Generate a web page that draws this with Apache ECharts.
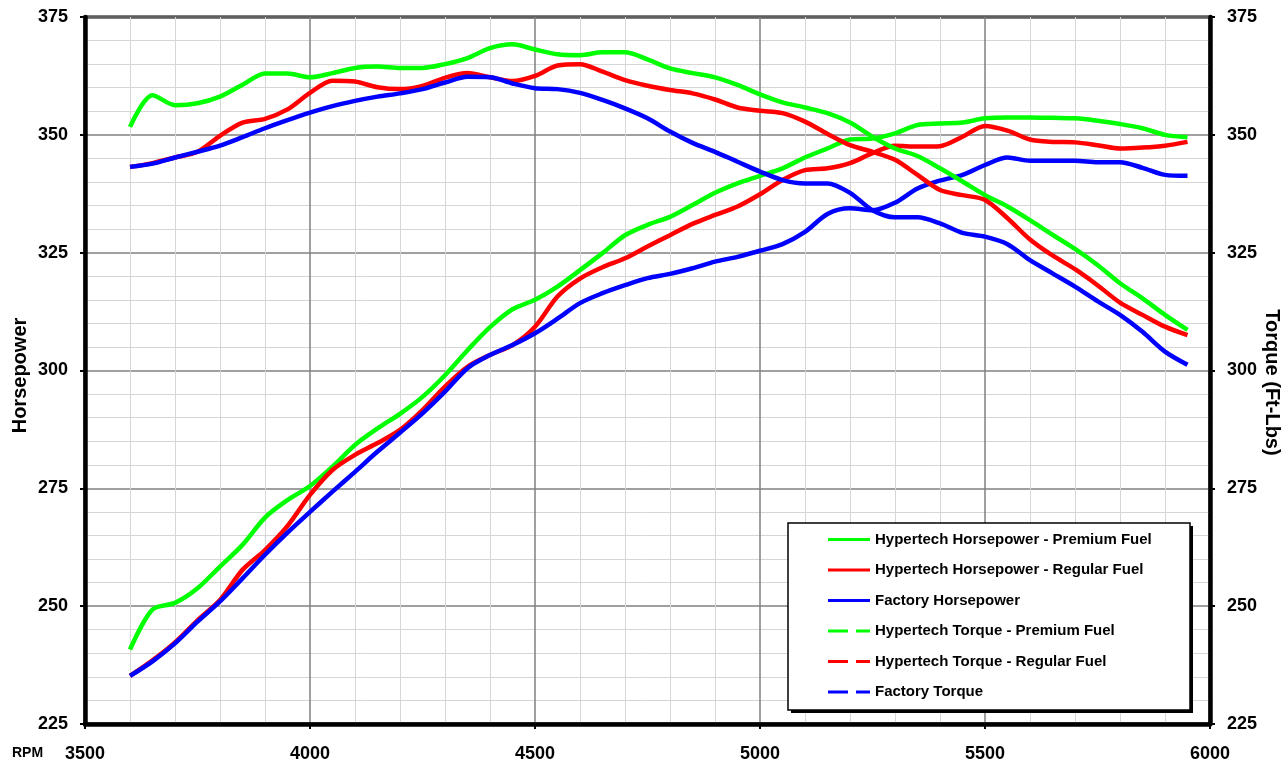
<!DOCTYPE html>
<html><head><meta charset="utf-8">
<script src="https://cdn.jsdelivr.net/npm/echarts@6/dist/echarts.min.js"></script>
<style>html,body{margin:0;padding:0;background:#fff}#c{width:1282px;height:768px}</style>
</head><body><div id="c"></div><script>
const rpm = [3600,3650,3700,3750,3800,3850,3900,3950,4000,4050,4100,4150,4200,4250,4300,4350,4400,4450,4500,4550,4600,4650,4700,4750,4800,4850,4900,4950,5000,5050,5100,5150,5200,5250,5300,5350,5400,5450,5500,5550,5600,5650,5700,5750,5800,5850,5900,5950];
const xTicks = [3500,4000,4500,5000,5500,6000];
const yTicks = [225,250,275,300,325,350,375];

const hpPremium = [240.8,249.3,250.7,253.8,258.4,263.0,268.8,272.5,275.5,279.6,284.2,287.7,290.8,294.4,299.0,304.3,309.2,313.0,315.0,317.8,321.3,324.9,328.7,330.9,332.6,335.1,337.7,339.7,341.3,342.9,345.2,347.1,349.0,349.2,350.3,352.1,352.4,352.6,353.5,353.7,353.7,353.6,353.5,353.0,352.3,351.4,350.0,349.5];
const hpRegular = [235.2,238.5,242.3,247.0,251.3,257.7,261.9,267.0,273.6,278.9,282.1,284.6,287.4,291.6,296.6,300.8,303.3,305.4,309.3,315.7,319.5,321.9,323.8,326.3,328.7,331.1,333.0,334.8,337.4,340.4,342.5,342.9,344.0,346.1,347.7,347.5,347.6,349.6,351.9,350.9,349.0,348.5,348.4,347.8,347.1,347.3,347.7,348.5];
const hpFactory = [235.2,238.3,242.1,246.7,251.0,255.9,260.9,265.6,270.0,274.3,278.5,282.8,286.8,290.9,295.5,300.5,303.3,305.4,307.9,311.0,314.3,316.4,318.1,319.6,320.5,321.7,323.1,324.1,325.4,326.8,329.4,333.2,334.4,334.0,335.6,338.6,340.3,341.5,343.6,345.2,344.5,344.5,344.5,344.2,344.2,343.0,341.5,341.3];
const tqPremium = [351.7,358.4,356.3,356.7,358.1,360.6,363.0,363.0,362.2,363.1,364.2,364.5,364.2,364.2,365.0,366.3,368.4,369.2,368.1,367.1,366.9,367.5,367.5,366.0,364.1,363.1,362.2,360.6,358.6,356.9,355.8,354.6,352.6,349.6,347.1,345.5,342.9,340.1,337.2,334.8,331.9,328.8,325.8,322.4,318.5,315.3,311.8,308.6];
const tqRegular = [343.2,344.0,345.2,346.4,349.8,352.6,353.4,355.4,358.9,361.5,361.3,360.1,359.7,360.4,362.1,363.1,362.2,361.4,362.5,364.7,365.0,363.4,361.6,360.4,359.5,358.8,357.5,355.8,355.1,354.6,352.8,350.2,347.8,346.4,344.7,341.5,338.3,337.2,336.2,332.3,327.8,324.4,321.5,318.1,314.4,311.8,309.3,307.5];
const tqFactory = [343.2,343.9,345.2,346.4,347.7,349.5,351.4,353.1,354.7,356.1,357.2,358.1,358.8,359.7,361.1,362.3,362.2,360.9,359.9,359.7,358.9,357.4,355.6,353.5,350.7,348.3,346.4,344.3,342.2,340.4,339.7,339.7,337.7,334.0,332.5,332.5,331.2,329.2,328.4,326.8,323.4,320.6,317.8,314.7,311.8,308.2,304.0,301.2];

const names = ['Hypertech Horsepower - Premium Fuel','Hypertech Horsepower - Regular Fuel','Factory Horsepower','Hypertech Torque - Premium Fuel','Hypertech Torque - Regular Fuel','Factory Torque'];
const colors = ['#00ff00','#ff0000','#0000ff','#00ff00','#ff0000','#0000ff'];
const values = [hpPremium,hpRegular,hpFactory,tqPremium,tqRegular,tqFactory];

const FONT = "'Liberation Sans', Arial, sans-serif";
const pairs = v => rpm.map((r,i)=>[r,v[i]]);
const plain = v => String(v);

const series = values.map((v,i)=>({
  name: names[i], type:'line', yAxisIndex: i<3?0:1, data: pairs(v),
  symbol:'none', showSymbol:false, smooth:0.3,
  lineStyle:{color:colors[i], width:4.5}, itemStyle:{color:colors[i]},
  z: 3, animation:false
}));

const solidIcon = 'path://M0,0H42V3H0Z';
const dashIcon = 'path://M0,0H20V3H0Z M28,0H42V3H28Z';

const yAxisCommon = {
  type:'value', min:yTicks[0], max:yTicks[yTicks.length-1], interval:25,
  axisLine:{show:true, onZero:false, lineStyle:{color:'#000', width:4.5}},
  axisTick:{show:true, length:5, lineStyle:{color:'#000', width:2}},
  axisLabel:{color:'#000', fontFamily:FONT, fontWeight:'bold', fontSize:18, margin:17, formatter:plain},
  minorTick:{show:false, splitNumber:5},
  nameLocation:'middle', nameMoveOverlap:false
};

const option = {
  backgroundColor:'#fff',
  animation:false,
  grid:{left:85, right:72, top:17, bottom:44, containLabel:false, outerBoundsMode:'none',
        show:true, borderColor:'#000', borderWidth:3, backgroundColor:'transparent'},
  xAxis:{
    type:'value', min:xTicks[0], max:xTicks[xTicks.length-1], interval:500,
    axisLine:{show:true, onZero:false, lineStyle:{color:'#000', width:4.5}},
    axisTick:{show:true, length:5, lineStyle:{color:'#000', width:2}},
    axisLabel:{color:'#000', fontFamily:FONT, fontWeight:'bold', fontSize:18, margin:21, showMinLabel:true, showMaxLabel:true, formatter:plain},
    splitLine:{show:true, lineStyle:{color:'#808080', width:1.5}},
    minorTick:{show:false, splitNumber:5},
    minorSplitLine:{show:true, lineStyle:{color:'#d6d6d6', width:1}}
  },
  yAxis:[
    Object.assign({}, yAxisCommon, {
      position:'left', name:'Horsepower', nameGap:55,
      nameTextStyle:{color:'#000', fontFamily:FONT, fontWeight:'bold', fontSize:20, padding:[0,10,0,0]},
      splitLine:{show:true, lineStyle:{color:'#808080', width:1.5}},
      minorSplitLine:{show:true, lineStyle:{color:'#d6d6d6', width:1}}
    }),
    Object.assign({}, yAxisCommon, {
      position:'right', name:'Torque (Ft-Lbs)', nameGap:52, nameRotate:-90,
      nameTextStyle:{color:'#000', fontFamily:FONT, fontWeight:'bold', fontSize:20, padding:[0,0,0,24]},
      splitLine:{show:false}, minorSplitLine:{show:false}
    })
  ],
  legend:{
    show:true, orient:'vertical', left:828, top:532, padding:0,
    itemWidth:42, itemHeight:14, itemGap:15.5, selectedMode:false, z:100,
    textStyle:{color:'#000', fontFamily:FONT, fontWeight:'bold', fontSize:15},
    data: names.map((n,i)=> ({name:n, icon: i<3 ? solidIcon : dashIcon}))
  },
  graphic:[
    {type:'rect', z:50, shape:{x:791, y:526, width:402, height:187}, style:{fill:'#000'}},
    {type:'rect', z:51, shape:{x:788, y:523, width:402, height:187}, style:{fill:'#fff', stroke:'#000', lineWidth:1.5}},
    {type:'text', z:60, left:12, top:746, style:{text:'RPM', fill:'#000', font:"bold 14px 'Liberation Sans', Arial, sans-serif"}}
  ],
  series: series
};

const chart = echarts.init(document.getElementById('c'));
chart.setOption(option);
</script></body></html>
